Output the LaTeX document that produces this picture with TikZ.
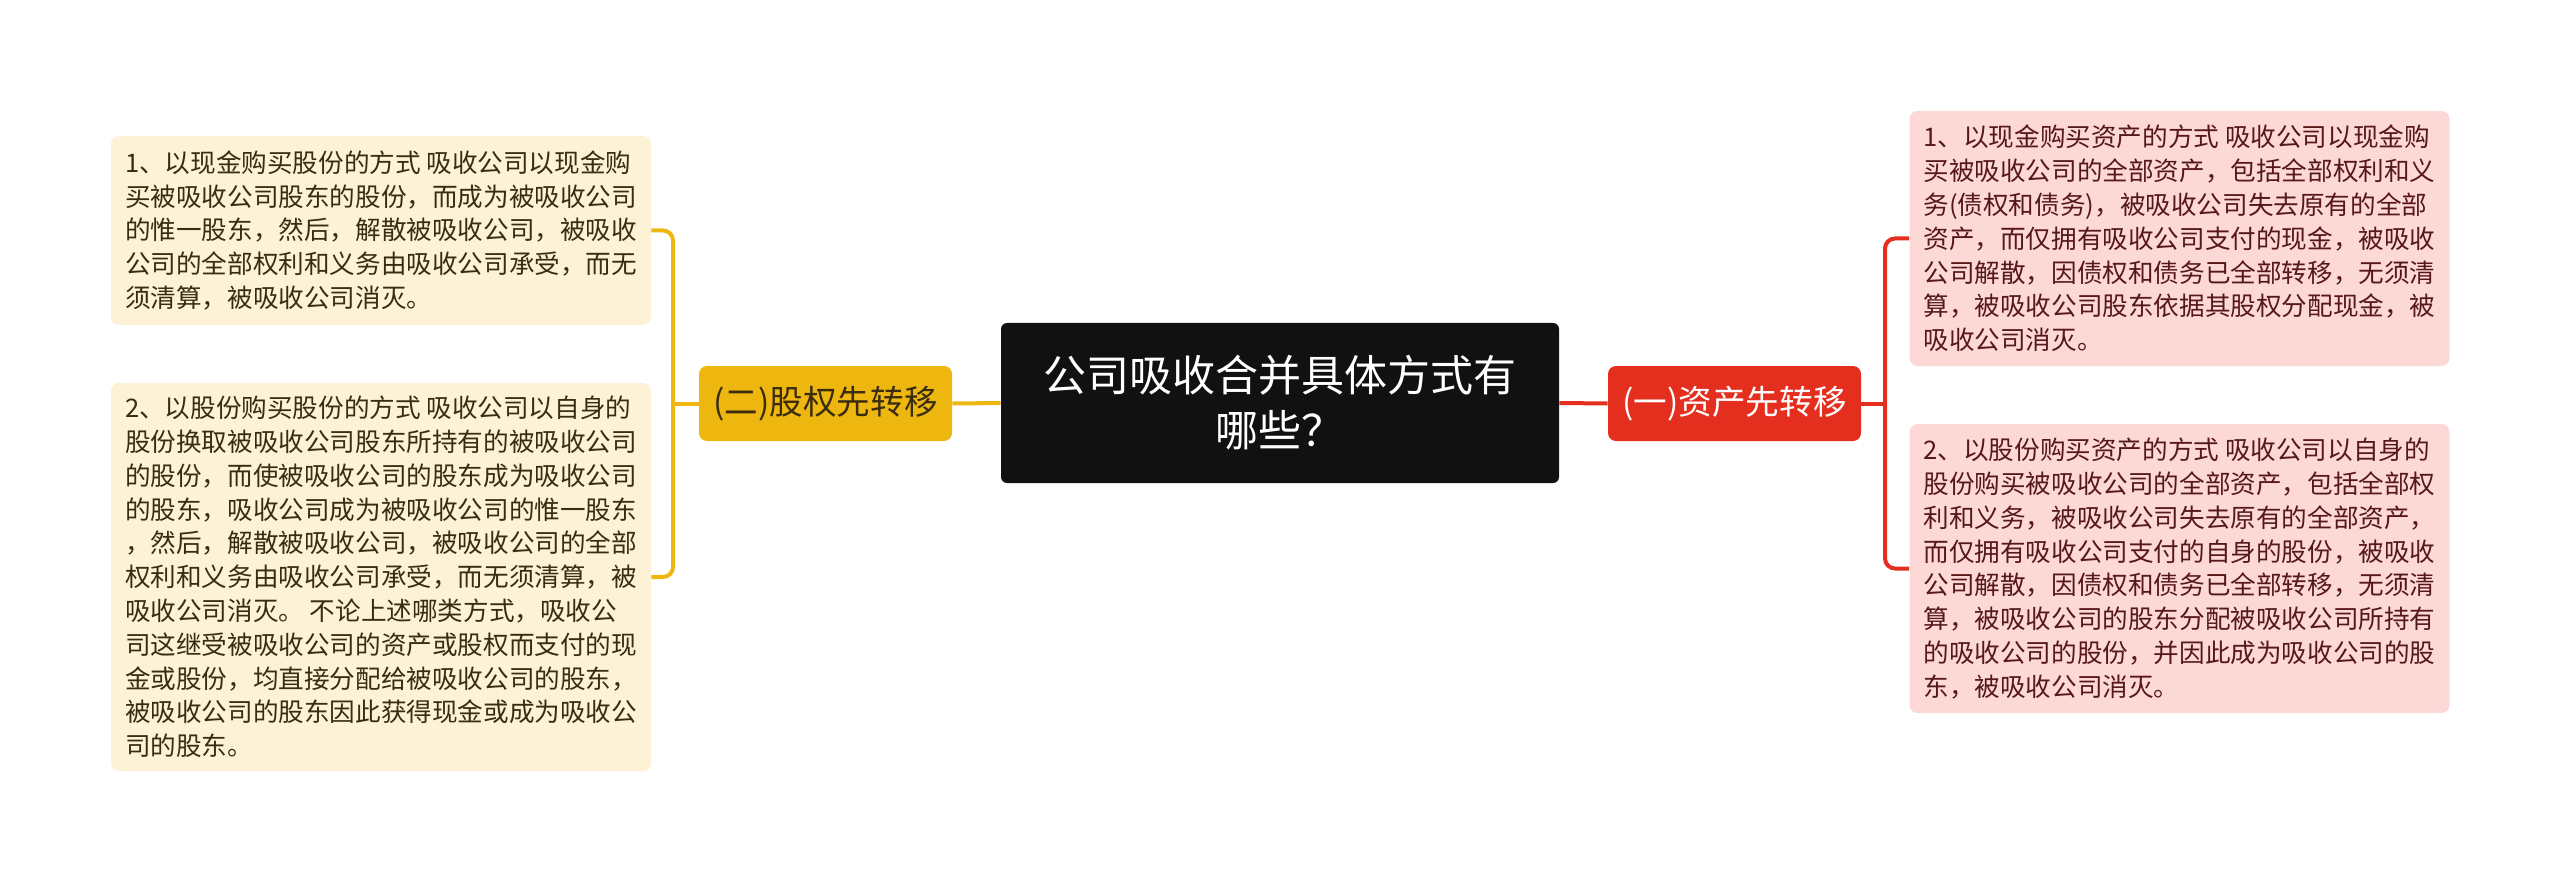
\documentclass[tikz,border=0pt]{standalone}
\usepackage{fontspec}
\usepackage{xcolor}
\newfontfamily\cjk{Noto Sans CJK SC}
\usetikzlibrary{positioning,calc}
\definecolor{rootbg}{HTML}{111111}
\definecolor{gold}{HTML}{EDB70F}
\definecolor{goldleaf}{HTML}{FDF2D6}
\definecolor{goldtext}{HTML}{3A2C10}
\definecolor{redbr}{HTML}{E42F1E}
\definecolor{redleaf}{HTML}{FCD8D6}
\definecolor{redtext}{HTML}{561818}

\begin{document}
\begin{tikzpicture}[x=0.5pt,y=-0.5pt]
  \tikzstyle{root}=[rectangle, rounded corners=3pt, fill=rootbg, text=white, font=\cjk\fontsize{21.5}{27.5}\selectfont, align=center, minimum width=279pt, minimum height=80pt, inner sep=0pt]
  \tikzstyle{branch}=[rectangle, rounded corners=4pt, font=\cjk\fontsize{16.8}{20}\selectfont, minimum width=126.5pt, minimum height=37.5pt, inner sep=0pt]
  \tikzstyle{leaf}=[rectangle, rounded corners=4pt, font=\cjk\fontsize{12.8}{16.9}\selectfont, align=left, minimum width=270pt, inner sep=0pt]
  \tikzstyle{goldline}=[draw=gold, line width=2pt]
  \tikzstyle{redline}=[draw=redbr, line width=2pt]

  \useasboundingbox (0,0) rectangle (2560,882);

  % 中心主题
  \node[root] (root) at (1280,403) {公司吸收合并具体方式有\\哪些？};

  % 左侧：(二)股权先转移
  \node[branch, fill=gold, text=goldtext] (b2) at (825.5,403.5) {(二)股权先转移};
  \node[leaf, fill=goldleaf, text=goldtext, minimum height=94.5pt] (l1) at (381,230.5) {1、以现金购买股份的方式 吸收公司以现金购\\
买被吸收公司股东的股份，而成为被吸收公司\\
的惟一股东，然后，解散被吸收公司，被吸收\\
公司的全部权利和义务由吸收公司承受，而无\\
须清算，被吸收公司消灭。};
  \node[leaf, fill=goldleaf, text=goldtext, minimum height=194pt] (l2) at (381,577) {2、以股份购买股份的方式 吸收公司以自身的\\
股份换取被吸收公司股东所持有的被吸收公司\\
的股份，而使被吸收公司的股东成为吸收公司\\
的股东，吸收公司成为被吸收公司的惟一股东\\
，然后，解散被吸收公司，被吸收公司的全部\\
权利和义务由吸收公司承受，而无须清算，被\\
吸收公司消灭。 不论上述哪类方式，吸收公\\
司这继受被吸收公司的资产或股权而支付的现\\
金或股份，均直接分配给被吸收公司的股东，\\
被吸收公司的股东因此获得现金或成为吸收公\\
司的股东。};

  % 右侧：(一)资产先转移
  \node[branch, fill=redbr, text=white] (b1) at (1734.5,403.5) {(一)资产先转移};
  \node[leaf, fill=redleaf, text=redtext, minimum height=127.5pt] (r1) at (2179.5,238.5) {1、以现金购买资产的方式 吸收公司以现金购\\
买被吸收公司的全部资产，包括全部权利和义\\
务(债权和债务)，被吸收公司失去原有的全部\\
资产，而仅拥有吸收公司支付的现金，被吸收\\
公司解散，因债权和债务已全部转移，无须清\\
算，被吸收公司股东依据其股权分配现金，被\\
吸收公司消灭。};
  \node[leaf, fill=redleaf, text=redtext, minimum height=144.5pt] (r2) at (2179.5,568.5) {2、以股份购买资产的方式 吸收公司以自身的\\
股份购买被吸收公司的全部资产，包括全部权\\
利和义务，被吸收公司失去原有的全部资产，\\
而仅拥有吸收公司支付的自身的股份，被吸收\\
公司解散，因债权和债务已全部转移，无须清\\
算，被吸收公司的股东分配被吸收公司所持有\\
的吸收公司的股份，并因此成为吸收公司的股\\
东，被吸收公司消灭。};

  % 连线
  \coordinate (trunkL) at (673,403.5);
  \coordinate (trunkR) at (1885,403.5);
  \draw[goldline] (root.west) -- (b2.east);
  \draw[goldline] (b2.west) -- (trunkL);
  \draw[goldline, rounded corners=5pt] (l1.east) -| (trunkL |- l2.east) -- (l2.east);
  \draw[redline] (root.east) -- (b1.west);
  \draw[redline] (b1.east) -- (trunkR);
  \draw[redline, rounded corners=5pt] (r1.west) -| (trunkR |- r2.west) -- (r2.west);
\end{tikzpicture}
\end{document}
